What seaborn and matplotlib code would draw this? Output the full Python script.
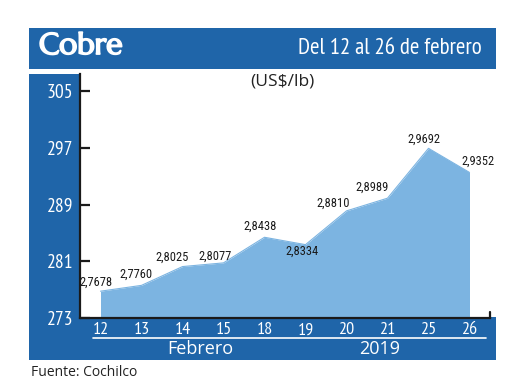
import matplotlib
matplotlib.use("Agg")
import matplotlib.pyplot as plt
from matplotlib.patches import Rectangle
from matplotlib.lines import Line2D
import matplotlib.patheffects as pe
import seaborn as sns
import pandas as pd

# ---- data ----
days = ["12", "13", "14", "15", "18", "19", "20", "21", "25", "26"]
prices = [276.78, 277.60, 280.25, 280.77, 284.38, 283.34, 288.10, 289.89, 296.92, 293.52]
labels = ["2,7678", "2,7760", "2,8025", "2,8077", "2,8438", "2,8334",
          "2,8810", "2,8989", "2,9692", "2,9352"]
yticks = [273, 281, 289, 297, 305]
title = "Cobre"
subtitle = "Del 12 al 26 de febrero"
unit = "(US$/lb)"
month_label = "Febrero"
year_label = "2019"
source = "Fuente: Cochilco"

# label offsets (pixels) relative to each point
label_dx = [-4, -5, -10, -8, -4, -3, -13, -15, -5, 8]
label_dy = [9, 11, 9, 7, 11, -7, 8, 11, 9, 11]

W, H = 520, 390
BLUE = "#1f65a9"
AREA = "#7cb4e1"
NARROW = ["PT Sans Narrow", "DejaVu Sans"]
COND = ["Roboto Condensed", "DejaVu Sans"]
OPEN = ["Open Sans", "DejaVu Sans"]

sns.set_theme(style="white")
plt.rcParams["font.family"] = ["Liberation Sans", "DejaVu Sans"]

fig = plt.figure(figsize=(W / 100, H / 100), dpi=100)
fig.patch.set_facecolor("white")


def fx(x):
    return x / W


def fy(y):
    return 1 - y / H


def rect(x0, y0, x1, y1, color):
    fig.patches.append(Rectangle((fx(x0), fy(y1)), fx(x1) - fx(x0), fy(y0) - fy(y1),
                                 transform=fig.transFigure, color=color, zorder=-5, lw=0))


# background frame
rect(29, 28, 496, 69, BLUE)      # title bar
rect(29, 74, 81, 360, BLUE)      # left strip
rect(29, 317, 496, 360, BLUE)    # bottom band

fig.text(fx(39), fy(47), title, color="white", fontsize=21.5,
         ha="left", va="center", family=["Marcellus", "Liberation Sans", "DejaVu Sans"],
         path_effects=[pe.withStroke(linewidth=1.3, foreground="white")])
fig.text(fx(482), fy(49), subtitle, color="white", fontsize=16.5,
         ha="right", va="center", family=NARROW)
fig.text(fx(282), fy(82), unit, color="#222222", fontsize=12.5,
         ha="center", va="center", family=OPEN)

# axes
ax_left, ax_right, ax_top, ax_bottom = 80, 490, 74, 318
ax = fig.add_axes([fx(ax_left), fy(ax_bottom), fx(ax_right) - fx(ax_left),
                   fy(ax_top) - fy(ax_bottom)])
ax.set_facecolor("none")

df = pd.DataFrame({"x": range(len(days)), "price": prices})
ymin = 273
ppu = (319 - 92) / 32.0
ymax = ymin + (ax_bottom - ax_top) / ppu
ax.fill_between(df["x"], ymin, df["price"], color=AREA, lw=0, zorder=1)
sns.lineplot(data=df, x="x", y="price", ax=ax, color=AREA, lw=0.8, zorder=2)

ax.set_xlim(-0.5, len(days) - 0.5)
ax.set_ylim(ymin, ymax)
ax.set_xticks(range(len(days)))
ax.set_xticklabels(days)
ax.set_yticks(yticks)
ax.set_yticklabels([str(t) for t in yticks])
ax.set_xlabel("")
ax.set_ylabel("")

for s in ["top", "right"]:
    ax.spines[s].set_visible(False)
for s in ["left", "bottom"]:
    ax.spines[s].set_visible(True)
    ax.spines[s].set_color("#1a1a1a")
    ax.spines[s].set_linewidth(1.6)
    ax.spines[s].set_zorder(5)

ax.tick_params(axis="y", direction="in", length=7, width=1.6, color="#1a1a1a",
               pad=5, labelcolor="white", labelsize=14, left=True)
ax.tick_params(axis="x", length=0, pad=3, labelcolor="white", labelsize=13)
for t in ax.get_yticklabels() + ax.get_xticklabels():
    t.set_family(NARROW)

# right end bracket tick
ax.add_line(Line2D([1, 1], [0, 0.025], transform=ax.transAxes, color="#1a1a1a",
                   lw=1.6, clip_on=False, zorder=5))

# data labels
for i, (p, lab) in enumerate(zip(prices, labels)):
    ax.annotate(lab, (i, p), xytext=(label_dx[i] * 0.72, label_dy[i] * 0.72),
                textcoords="offset points", ha="center", va="center",
                fontsize=9, color="#1a1a1a", family=COND)

# bottom band: separator, month and year
fig.add_artist(Line2D([fx(93), fx(486)], [fy(338), fy(338)], transform=fig.transFigure,
                      color="white", lw=1.2))
fig.text(fx(200), fy(349.5), month_label, color="white", fontsize=13,
         ha="center", va="center", family=OPEN)
fig.text(fx(380), fy(349.5), year_label, color="white", fontsize=13,
         ha="center", va="center", family=OPEN)

fig.text(fx(31), fy(372), source, color="#222222", fontsize=10,
         ha="left", va="center", family=OPEN)

fig.savefig("out.png", dpi=100, facecolor="white")
